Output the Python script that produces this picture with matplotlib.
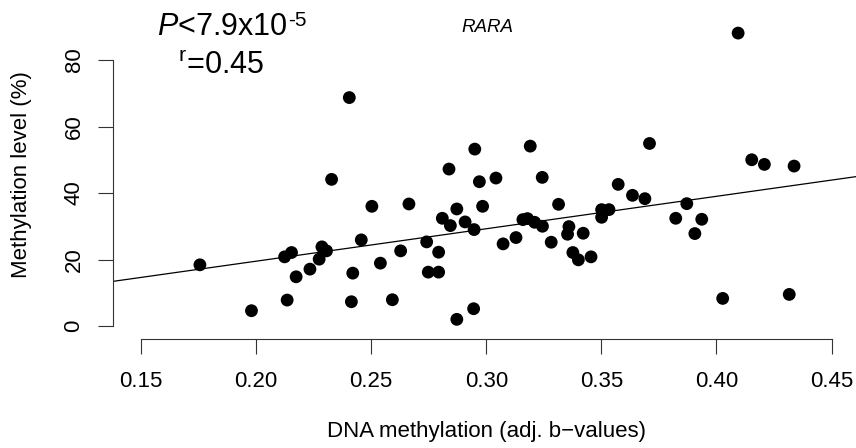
import numpy as np
import matplotlib
matplotlib.use('Agg')
import matplotlib.pyplot as plt

# adj. beta values (x) and methylation level in % (y)
beta = [0.1756, 0.1980, 0.2124, 0.2154, 0.2135, 0.2174, 0.2234, 0.2274, 0.2286, 0.2306,
        0.2328, 0.2405, 0.2414, 0.2420, 0.2457, 0.2503, 0.2540, 0.2592, 0.2628, 0.2664,
        0.2741, 0.2748, 0.2793, 0.2793, 0.2809, 0.2838, 0.2844, 0.2872, 0.2872, 0.2908,
        0.2947, 0.2945, 0.2950, 0.2970, 0.2984, 0.3042, 0.3073, 0.3129, 0.3159, 0.3179,
        0.3191, 0.3210, 0.3243, 0.3244, 0.3282, 0.3314, 0.3353, 0.3359, 0.3376, 0.3400,
        0.3421, 0.3455, 0.3501, 0.3533, 0.3501, 0.3573, 0.3635, 0.3689, 0.3709, 0.3823,
        0.3871, 0.3906, 0.3936, 0.4027, 0.4094, 0.4153, 0.4208, 0.4316, 0.4337]
meth = [18.4, 4.6, 20.8, 22.1, 7.8, 14.8, 17.1, 20.1, 23.8, 22.6,
        44.1, 68.7, 7.3, 15.9, 25.9, 36.0, 18.9, 7.9, 22.6, 36.7,
        25.3, 16.2, 16.2, 22.2, 32.4, 47.2, 30.2, 35.2, 2.0, 31.3,
        29.0, 5.2, 53.2, 43.4, 36.0, 44.5, 24.7, 26.6, 32.0, 32.3,
        54.1, 31.2, 44.7, 30.0, 25.2, 36.6, 27.6, 29.9, 22.1, 19.9,
        27.9, 20.8, 35.0, 35.0, 32.7, 42.6, 39.3, 38.3, 54.9, 32.4,
        36.8, 27.8, 32.1, 8.3, 88.1, 50.0, 48.6, 9.5, 48.1]

# fitted line
fit_intercept = -0.03
fit_slope = 97.6

xticks = [0.15, 0.20, 0.25, 0.30, 0.35, 0.40, 0.45]
yticks = [0, 20, 40, 60, 80]

plt.rcParams['font.family'] = 'Liberation Sans'
plt.rcParams['mathtext.fontset'] = 'custom'
plt.rcParams['mathtext.rm'] = 'Liberation Sans'
plt.rcParams['mathtext.it'] = 'Liberation Sans:italic'

W, H = 856, 448
fig = plt.figure(figsize=(W / 100, H / 100), dpi=100)
ax = fig.add_axes([113 / W, (H - 339.3) / H, (W - 113) / W, 339.3 / H])
ax.set_xlim(0.13785, 0.4606)
ax.set_ylim(-4.0, 98.05)

ax.scatter(beta, meth, s=85, c='black', edgecolors='none', zorder=3)
xx = np.array(ax.get_xlim())
ax.plot(xx, fit_intercept + fit_slope * xx, color='black', lw=0.9)

for s in ['top', 'right']:
    ax.spines[s].set_visible(False)
ax.spines['left'].set_bounds(0, 80)
ax.spines['bottom'].set_bounds(0.15, 0.45)
for s in ['left', 'bottom']:
    ax.spines[s].set_linewidth(0.8)
    ax.spines[s].set_color('#333333')

ax.set_xticks(xticks)
ax.set_xticklabels(['%.2f' % v for v in xticks])
ax.set_yticks(yticks)
ax.set_yticklabels([str(v) for v in yticks], rotation=90, va='center')
ax.tick_params(length=10.5, width=0.8, color='#333333', labelsize=16)
ax.tick_params(axis='x', pad=12)
ax.tick_params(axis='y', pad=10)

fig.text(486 / W, 1 - 431 / H, 'DNA methylation (adj. b\u2212values)', fontsize=16,
         ha='center', va='center')
fig.text(22 / W, 1 - 175 / H, 'Methylation level (%)', fontsize=16,
         ha='center', va='center', rotation=90)

fig.text(157 / W, 1 - 35 / H, r'$\mathit{P}$<7.9x10', fontsize=22,
         ha='left', va='baseline')
fig.text(288 / W, 1 - 26 / H, '-5', fontsize=15, ha='left', va='baseline')
fig.text(178 / W, 1 - 74 / H, r'$^{\mathrm{r}}$=0.45', fontsize=22,
         ha='left', va='baseline')
fig.text(487 / W, 1 - 27 / H, 'RARA', fontsize=13.5, style='italic',
         ha='center', va='center')

fig.savefig('out.png', dpi=100)
